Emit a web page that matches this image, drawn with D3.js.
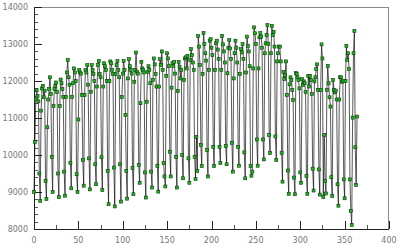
<!DOCTYPE html>
<html>
<head>
<meta charset="utf-8">
<script src="https://cdn.jsdelivr.net/npm/d3@7"></script>
<style>
  body { margin: 0; background: #fff; }
  svg { display: block; }
</style>
</head>
<body>
<svg width="400" height="252"></svg>
<script>
const svg = d3.select("svg");
const width = +svg.attr("width");
const height = +svg.attr("height");

// daily values, one row per week (Sun .. Sat), day 0 = first Sunday
const daily = [
  9000, 10350, 11500, 11750, 11600, 11450, 9500,
  8760, 11200, 11800, 11870, 11560, 11740, 9300,
  8810, 10750, 11500, 11780, 12100, 11650, 9950,
  9000, 11320, 11780, 11870, 11960, 11700, 9500,
  8860, 11320, 12040, 11940, 11780, 11570, 9550,
  8900, 11570, 12230, 12570, 12100, 11900, 9790,
  9100, 11570, 11940, 12340, 12230, 12000, 9480,
  9000, 10960, 12300, 12230, 12200, 11620, 9860,
  9170, 11620, 12300, 12230, 12430, 11900, 9910,
  9070, 11710, 12430, 12300, 12190, 12000, 9750,
  9210, 11850, 12430, 12540, 12190, 12100, 9940,
  9050, 11850, 12480, 12400, 12300, 12000, 9570,
  8670, 12000, 12530, 12480, 12300, 12190, 9660,
  8610, 12190, 12430, 12540, 12300, 12100, 9750,
  8740, 11570, 12200, 12540, 12300, 11080, 9570,
  8820, 12070, 12590, 12400, 12300, 12200, 9650,
  8940, 11980, 12300, 12770, 12250, 12200, 9730,
  9250, 11400, 12520, 12340, 12300, 12230, 9530,
  8850, 11440, 12250, 12400, 12300, 11940, 9550,
  9120, 12030, 12610, 12450, 12190, 11850, 9710,
  9010, 11850, 12590, 12430, 12800, 12300, 9780,
  9420, 9150, 12140, 12750, 12610, 12400, 10090,
  9420, 11820, 12480, 12410, 12520, 12200, 9950,
  9120, 11730, 12520, 12390, 12070, 12300, 10000,
  9370, 12030, 12610, 12640, 12340, 12680, 9910,
  9250, 12570, 12860, 12700, 12500, 12300, 9950,
  9350, 10490, 9570, 13220, 12930, 12430, 10270,
  9700, 12190, 13300, 13000, 12750, 12550, 10140,
  9420, 12300, 13090, 13130, 12900, 12700, 10220,
  9700, 12300, 13020, 13090, 12850, 12600, 10220,
  9780, 12300, 13220, 12990, 12800, 12500, 10240,
  9750, 12210, 12900, 13110, 12880, 12600, 10330,
  9550, 12070, 12750, 13090, 12900, 12500, 10220,
  9710, 12190, 12860, 12770, 13000, 12600, 10070,
  9370, 12230, 13200, 12950, 12800, 12400, 9700,
  9440, 9550, 12340, 13450, 13290, 13000, 10420,
  9710, 12340, 13180, 13300, 13200, 12900, 10420,
  9880, 12750, 13020, 13240, 13510, 13000, 10540,
  10050, 12750, 13490, 13240, 13330, 12930, 10500,
  9860, 12530, 12750, 12930, 12930, 12530, 10060,
  9280, 12250, 12050, 12160, 12530, 11620, 9580,
  8950, 11910, 12100, 12030, 11760, 11490, 9390,
  8940, 12220, 12190, 12100, 12030, 11800, 9530,
  9250, 12050, 11890, 11990, 11940, 11700, 9430,
  8950, 12140, 11850, 12140, 12030, 11650, 9630,
  9040, 11990, 12100, 12320, 12450, 11760, 9610,
  8930, 11760, 12990, 12610, 8860, 10540, 9300,
  8960, 11760, 12410, 11940, 11560, 11310, 9400,
  8890, 12030, 11760, 11690, 11740, 11500, 9210,
  8630, 11500, 12100, 12100, 11980, 12000, 9340,
  8830, 12000, 12950, 12570, 12750, 12320, 9340,
  8490, 8110, 11010, 12750, 13350, 10210, 9190,
  11040
];

const xTicks = [0, 50, 100, 150, 200, 250, 300, 350, 400];
const yTicks = [8000, 9000, 10000, 11000, 12000, 13000, 14000];

const plot = { left: 34, right: 389, top: 7, bottom: 229 };

const x = d3.scaleLinear().domain([0, 400]).range([plot.left, plot.right]);
const y = d3.scaleLinear().domain([8000, 14000]).range([plot.bottom, plot.top]);

const points = daily.map((v, i) => ({ day: i, value: v }));

// frame (top and right lighter)
svg.append("line")
  .attr("x1", plot.left).attr("x2", plot.right)
  .attr("y1", plot.top + 0.5).attr("y2", plot.top + 0.5)
  .attr("stroke", "#8a8a8a");
svg.append("line")
  .attr("x1", plot.right - 0.5).attr("x2", plot.right - 0.5)
  .attr("y1", plot.top).attr("y2", plot.bottom)
  .attr("stroke", "#8a8a8a");

// minor ticks
const yMinor = d3.range(8000, 14001, 200).filter(v => v % 1000 !== 0);
svg.append("g").selectAll("line")
  .data(yMinor)
  .join("line")
  .attr("x1", plot.left).attr("x2", plot.left + 4)
  .attr("y1", d => Math.round(y(d)) + 0.5).attr("y2", d => Math.round(y(d)) + 0.5)
  .attr("stroke", "#555");

const xMinor = d3.range(25, 400, 50);
svg.append("g").selectAll("line")
  .data(xMinor)
  .join("line")
  .attr("x1", d => Math.round(x(d)) + 0.5).attr("x2", d => Math.round(x(d)) + 0.5)
  .attr("y1", plot.bottom).attr("y2", plot.bottom - 4)
  .attr("stroke", "#555");

// major ticks
svg.append("g").selectAll("line")
  .data(yTicks)
  .join("line")
  .attr("x1", plot.left).attr("x2", plot.left + 8)
  .attr("y1", d => Math.round(y(d)) + 0.5).attr("y2", d => Math.round(y(d)) + 0.5)
  .attr("stroke", "#222");

svg.append("g").selectAll("line")
  .data(xTicks)
  .join("line")
  .attr("x1", d => Math.round(x(d)) + 0.5).attr("x2", d => Math.round(x(d)) + 0.5)
  .attr("y1", plot.bottom).attr("y2", plot.bottom - 8)
  .attr("stroke", "#222");

// axis lines
svg.append("line")
  .attr("x1", plot.left + 0.5).attr("x2", plot.left + 0.5)
  .attr("y1", plot.top).attr("y2", plot.bottom + 1)
  .attr("stroke", "#222");
svg.append("line")
  .attr("x1", plot.left).attr("x2", plot.right)
  .attr("y1", plot.bottom + 0.5).attr("y2", plot.bottom + 0.5)
  .attr("stroke", "#222");

// tick labels
svg.append("g").selectAll("text")
  .data(yTicks)
  .join("text")
  .attr("x", plot.left - 6)
  .attr("y", d => y(d) + 3)
  .attr("text-anchor", "end")
  .attr("font-family", "DejaVu Sans, sans-serif")
  .attr("font-size", 8)
  .attr("fill", "#777")
  .text(d => d);

svg.append("g").selectAll("text")
  .data(xTicks)
  .join("text")
  .attr("x", d => x(d))
  .attr("y", plot.bottom + 14)
  .attr("text-anchor", "middle")
  .attr("font-family", "DejaVu Sans, sans-serif")
  .attr("font-size", 8)
  .attr("fill", "#777")
  .text(d => d);

// series line
const line = d3.line()
  .x(d => x(d.day))
  .y(d => y(d.value));

svg.append("path")
  .datum(points)
  .attr("d", line)
  .attr("fill", "none")
  .attr("stroke", "#111")
  .attr("stroke-width", 0.7);

// markers
svg.append("g").selectAll("rect")
  .data(points)
  .join("rect")
  .attr("x", d => x(d.day) - 1.5)
  .attr("y", d => y(d.value) - 1.5)
  .attr("width", 3)
  .attr("height", 3)
  .attr("fill", "#1fb51f")
  .attr("stroke", "#0b3d0b")
  .attr("stroke-width", 0.6);
</script>
</body>
</html>
